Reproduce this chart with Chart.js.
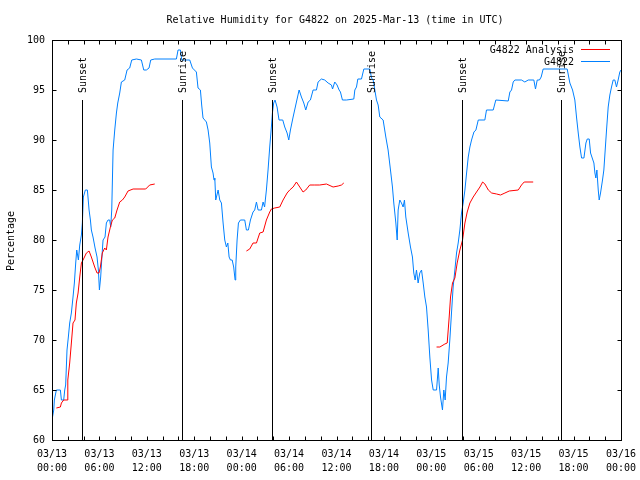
<!DOCTYPE html>
<html>
<head>
<meta charset="utf-8">
<script src="https://cdn.jsdelivr.net/npm/chart.js@4"></script>
<style>
  html, body { margin: 0; padding: 0; background: #ffffff; }
  #rhChart { display: block; }
</style>
</head>
<body>
<canvas id="rhChart" width="640" height="480"></canvas>
<script>
// hours since 03/13 00:00 UTC
const obsHours = [0.0, 0.22, 0.3, 0.55, 1.06, 1.19, 1.48, 1.61, 1.73, 1.9, 2.07, 2.24, 2.45, 2.66, 2.83, 3.0, 3.13, 3.34, 3.51, 3.72, 3.84, 3.97, 4.22, 4.48, 4.69, 4.86, 4.98, 5.19, 5.45, 5.7, 5.87, 6.0, 6.16, 6.29, 6.46, 6.71, 6.88, 7.09, 7.3, 7.43, 7.56, 7.73, 7.94, 8.15, 8.32, 8.57, 8.78, 9.2, 9.5, 9.83, 10.09, 10.68, 11.31, 11.61, 11.94, 12.28, 12.49, 13.0, 15.74, 15.95, 16.25, 16.42, 17.43, 17.77, 18.27, 18.48, 18.78, 18.94, 19.11, 19.54, 19.75, 19.96, 20.17, 20.38, 20.5, 20.6, 20.72, 21.02, 21.23, 21.44, 21.65, 21.86, 22.07, 22.25, 22.41, 22.58, 22.8, 22.99, 23.17, 23.25, 23.42, 23.59, 23.84, 24.39, 24.6, 24.85, 25.11, 25.44, 25.65, 25.87, 26.08, 26.5, 26.71, 26.9, 27.13, 27.34, 27.55, 27.76, 27.89, 28.05, 28.22, 28.48, 28.73, 29.2, 29.45, 29.75, 29.96, 30.17, 30.51, 30.93, 31.27, 31.56, 31.86, 32.11, 32.41, 32.7, 33.04, 33.46, 33.67, 34.09, 34.51, 34.94, 35.36, 35.5, 35.78, 36.07, 36.33, 36.5, 36.75, 37.26, 38.19, 38.32, 38.53, 38.7, 39.16, 39.46, 40.22, 40.43, 40.64, 40.85, 41.06, 41.27, 41.48, 41.9, 42.24, 42.53, 42.83, 43.08, 43.25, 43.51, 43.68, 43.8, 44.01, 44.22, 44.43, 44.6, 44.77, 45.07, 45.36, 45.61, 45.78, 45.95, 46.12, 46.33, 46.54, 46.76, 46.97, 47.18, 47.39, 47.6, 47.81, 48.03, 48.24, 48.66, 48.87, 49.0, 49.16, 49.41, 49.58, 49.75, 49.92, 50.13, 50.34, 50.55, 50.76, 50.98, 51.19, 51.4, 51.61, 51.82, 52.03, 52.25, 52.46, 52.67, 52.88, 53.09, 53.39, 53.64, 53.94, 54.77, 54.98, 55.83, 56.16, 57.73, 57.94, 58.15, 58.36, 58.57, 59.41, 59.83, 60.26, 60.97, 61.18, 61.4, 61.68, 61.9, 62.15, 65.19, 65.53, 65.87, 66.16, 66.37, 66.59, 66.8, 67.01, 67.31, 67.56, 67.73, 67.98, 68.15, 68.4, 68.57, 68.7, 68.82, 68.95, 69.12, 69.24, 69.41, 69.66, 69.83, 70.0, 70.17, 70.38, 70.59, 70.8, 71.01, 71.22, 71.43, 71.64, 71.85, 72.0];
const obsValues = [62, 63, 64, 65, 65, 64, 64, 65, 65.5, 69, 70.3, 71.7, 72.7, 74.3, 75.7, 77.7, 79, 78, 79.5, 80.5, 81.7, 84.3, 85, 85, 83, 82, 81, 80.3, 79.2, 78.3, 77, 75, 76.3, 78, 80, 80.3, 81.7, 82, 82, 81.3, 83, 89, 91, 92.7, 93.7, 94.7, 95.8, 96, 97, 97.2, 98, 98.1, 98, 97, 97, 97.2, 98, 98.1, 98.1, 99, 99, 98, 98, 97.2, 96.8, 95.2, 95, 93.5, 92.2, 91.8, 91, 89.7, 87.3, 86.7, 86, 86.2, 84, 85, 84, 83.7, 81.7, 80, 79.3, 79.7, 78.3, 78, 78, 77.3, 76, 77.3, 80, 81.7, 82, 82, 81, 81, 82, 82.8, 83, 83.8, 83, 83, 83.8, 83.3, 85, 87, 89.3, 91.3, 92.7, 93.7, 94, 93.3, 92, 92, 91.3, 90.7, 90, 91, 92.3, 93.8, 95, 94.3, 93.7, 93, 93.8, 94, 95, 95, 95.8, 96.1, 96, 95.7, 95.5, 95.1, 95.8, 95.5, 95, 94.8, 94, 94, 94.1, 95, 95.3, 96.1, 96.1, 97.1, 97.1, 96.2, 96, 95, 94, 93.5, 92.3, 92, 90.3, 89, 87, 85.3, 83.7, 81.7, 80, 83, 84, 83.7, 83.3, 84, 82.3, 80.7, 79.3, 78.3, 76.7, 76, 77, 75.7, 76.7, 77, 75.7, 74.3, 73.3, 71, 68.3, 66, 65, 65, 67.2, 65.5, 64.3, 63, 65, 64, 66.3, 67.7, 70, 72.7, 75.3, 77, 78.7, 79.7, 81, 82.7, 83.7, 85, 86.7, 88.3, 89.3, 90, 90.8, 91, 92, 92, 93, 93, 94, 93.9, 94.8, 95, 95.8, 96, 96, 95.8, 96, 96, 95.1, 96, 96, 96.3, 97.1, 97.1, 95.7, 95, 94, 92.3, 90.7, 89.3, 88.2, 88.2, 89.7, 90.1, 90.1, 88.7, 88.1, 87.7, 86.7, 86.2, 87, 85, 84, 84.7, 86, 87, 89, 91, 93.3, 94.5, 95.3, 96, 96, 95.3, 96, 96.8, 97];

// analysis runs in three pieces, null marks the gaps
const anaHours = [0.55, 1.06, 1.19, 1.48, 1.9, 2.0, 2.24, 2.45, 2.66, 2.91, 3.08, 3.3, 3.51, 3.72, 3.93, 4.35, 4.69, 4.98, 5.4, 5.7, 5.95, 6.12, 6.37, 6.67, 6.88, 7.09, 7.39, 7.64, 7.94, 8.23, 8.57, 8.91, 9.2, 9.62, 10.26, 11.86, 12.36, 13.0,
  18.0,
  24.6, 25.02, 25.44, 25.87, 26.29, 26.71, 27.13, 27.55, 27.76, 28.18, 28.82, 29.24, 29.75, 30.08, 30.51, 30.93, 31.35, 31.77, 32.11, 32.61, 33.25, 33.88, 34.73, 35.57, 36.21, 36.63, 36.92,
  42.0,
  48.66, 49.08, 49.71, 50.01, 50.26, 50.43, 50.68, 50.98, 51.27, 51.61, 51.95, 52.25, 52.54, 52.88, 53.3, 53.72, 54.15, 54.49, 54.78, 55.21, 55.63, 56.26, 56.76, 57.31, 57.86, 59.0, 59.41, 59.75, 60.89];
const anaValues = [63.2, 63.3, 63.7, 64, 64, 66, 67.7, 69.7, 71.7, 72, 73.7, 74.7, 76.3, 77.7, 78, 78.7, 78.9, 78.3, 77.3, 76.7, 76.7, 77.3, 78.7, 79.2, 79, 80.3, 81.3, 82, 82.2, 83, 83.8, 84, 84.3, 84.9, 85.1, 85.1, 85.5, 85.6,
  null,
  78.9, 79.1, 79.7, 79.7, 80.7, 80.8, 82, 82.8, 83.1, 83.2, 83.3, 84, 84.7, 85, 85.3, 85.8, 85.3, 84.8, 85, 85.5, 85.5, 85.5, 85.6, 85.3, 85.4, 85.5, 85.7,
  null,
  69.3, 69.3, 69.6, 69.7, 72.3, 74.3, 75.7, 76.2, 77.7, 79, 80, 81.7, 82.8, 83.7, 84.3, 84.8, 85.3, 85.8, 85.6, 85, 84.7, 84.6, 84.5, 84.7, 84.9, 85, 85.5, 85.8, 85.8];

const eventHours = [3.8, 16.46, 27.85, 40.38, 51.9, 64.4];
const eventLabels = ['Sunset', 'Sunrise', 'Sunset', 'Sunrise', 'Sunset', 'Sunrise'];

const xTickHours = [0, 6, 12, 18, 24, 30, 36, 42, 48, 54, 60, 66, 72];
const xTickDates = ['03/13', '03/13', '03/13', '03/13', '03/14', '03/14', '03/14', '03/14', '03/15', '03/15', '03/15', '03/15', '03/16'];
const xTickTimes = ['00:00', '06:00', '12:00', '18:00', '00:00', '06:00', '12:00', '18:00', '00:00', '06:00', '12:00', '18:00', '00:00'];
const yTicks = [60, 65, 70, 75, 80, 85, 90, 95, 100];

const FONT = '10px "DejaVu Sans Mono", "Liberation Mono", monospace';

function toPoints(hours, values) {
    return hours.map((h, i) => ({ x: h, y: values[i] }));
}

// gnuplot-like frame: inward ticks, labels, event lines, title, key
const gnuplotFrame = {
    id: 'gnuplotFrame',
    afterDatasetsDraw(chart) {
        const ctx = chart.ctx;
        const area = chart.chartArea;
        const xs = chart.scales.x;
        const ys = chart.scales.y;
        const L = Math.round(area.left) + 0.5, R = Math.round(area.right) + 0.5;
        const T = Math.round(area.top) + 0.5, B = Math.round(area.bottom) + 0.5;

        ctx.save();
        ctx.strokeStyle = '#000000';
        ctx.fillStyle = '#000000';
        ctx.lineWidth = 1;
        ctx.font = FONT;

        // sunrise / sunset markers
        eventHours.forEach((h, i) => {
            const x = Math.round(xs.getPixelForValue(h)) + 0.5;
            const top = Math.round(ys.getPixelForValue(94.05));
            ctx.beginPath();
            ctx.moveTo(x, top);
            ctx.lineTo(x, B);
            ctx.stroke();
            ctx.save();
            ctx.translate(x + 1, top - 7);
            ctx.rotate(-Math.PI / 2);
            ctx.textAlign = 'left';
            ctx.textBaseline = 'middle';
            ctx.fillText(eventLabels[i], 0, 0);
            ctx.restore();
        });

        // border
        ctx.strokeRect(L, T, R - L, B - T);

        // x ticks every 2 h on bottom and top
        ctx.beginPath();
        for (let h = 2; h < 72; h += 2) {
            const x = Math.round(xs.getPixelForValue(h)) + 0.5;
            ctx.moveTo(x, B); ctx.lineTo(x, B - 4);
            ctx.moveTo(x, T); ctx.lineTo(x, T + 4);
        }
        // y ticks left and right
        yTicks.forEach(v => {
            const y = Math.round(ys.getPixelForValue(v)) + 0.5;
            ctx.moveTo(L, y); ctx.lineTo(L + 4, y);
            ctx.moveTo(R, y); ctx.lineTo(R - 4, y);
        });
        ctx.stroke();

        // tick labels
        ctx.textAlign = 'center';
        ctx.textBaseline = 'middle';
        xTickHours.forEach((h, i) => {
            const x = xs.getPixelForValue(h);
            ctx.fillText(xTickDates[i], x, 454);
            ctx.fillText(xTickTimes[i], x, 468);
        });
        ctx.textAlign = 'right';
        yTicks.forEach(v => {
            ctx.fillText(String(v), 45, ys.getPixelForValue(v));
        });

        // axis title
        ctx.save();
        ctx.translate(11, 241);
        ctx.rotate(-Math.PI / 2);
        ctx.textAlign = 'center';
        ctx.fillText('Percentage', 0, 0);
        ctx.restore();

        // title
        ctx.textAlign = 'center';
        ctx.fillText('Relative Humidity for G4822 on 2025-Mar-13 (time in UTC)', 335, 20);

        // key
        ctx.textAlign = 'right';
        chart.data.datasets.forEach((ds, i) => {
            const y = 50 + i * 12;
            ctx.fillStyle = '#000000';
            ctx.fillText(ds.label, 574, y);
            ctx.strokeStyle = ds.borderColor;
            ctx.beginPath();
            ctx.moveTo(581, Math.round(y) - 0.5);
            ctx.lineTo(610, Math.round(y) - 0.5);
            ctx.stroke();
        });
        ctx.restore();
    }
};

const ctx_rh = document.getElementById('rhChart').getContext('2d');
const rhChart = new Chart(ctx_rh, {
    type: 'line',
    data: {
        datasets: [{
            label: 'G4822 Analysis',
            data: toPoints(anaHours, anaValues),
            borderColor: '#ff0000',
            borderWidth: 1,
            pointRadius: 0,
            tension: 0,
            spanGaps: false,
            fill: false
        }, {
            label: 'G4822',
            data: toPoints(obsHours, obsValues),
            borderColor: '#0080ff',
            borderWidth: 1,
            pointRadius: 0,
            tension: 0,
            fill: false
        }]
    },
    options: {
        responsive: false,
        maintainAspectRatio: false,
        animation: false,
        layout: { padding: { left: 52, right: 19, top: 40, bottom: 40 } },
        scales: {
            x: { type: 'linear', min: 0, max: 72, display: false },
            y: { min: 60, max: 100, display: false }
        },
        plugins: {
            legend: { display: false },
            tooltip: { enabled: false }
        }
    },
    plugins: [gnuplotFrame]
});
</script>
</body>
</html>
